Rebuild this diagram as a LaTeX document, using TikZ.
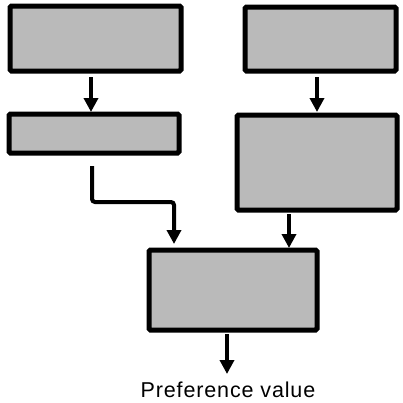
\documentclass[tikz,border=0pt]{standalone}
\usepackage{fontspec}
\setmainfont{Liberation Sans}
\usetikzlibrary{arrows.meta}
\begin{document}
\begin{tikzpicture}[x=1pt,y=-1pt,
  blk/.style={draw=black,line width=5pt,fill=black!27,rounded corners=1.5pt},
  flow/.style={line width=4pt,-{Triangle[length=14pt,width=14pt]}},
  link/.style={line width=4pt,rounded corners=3pt,-{Triangle[length=14pt,width=14pt]}}]
\useasboundingbox (0,0) rectangle (403,402);
\path[blk] (10,6) rectangle (181,71) node[pos=0.5,inner sep=0] (A) {};
\path[blk] (9,114) rectangle (179,153) node[pos=0.5,inner sep=0] (B) {};
\path[blk] (245,7) rectangle (396,71) node[pos=0.5,inner sep=0] (C) {};
\path[blk] (237,115) rectangle (397,210) node[pos=0.5,inner sep=0] (D) {};
\path[blk] (149,250) rectangle (317,330) node[pos=0.5,inner sep=0] (E) {};
\coordinate (a1) at (91,77);
\coordinate (b1) at (91,112);
\coordinate (c1) at (317,77);
\coordinate (d1) at (317,112);
\coordinate (d2) at (289,214);
\coordinate (e1) at (289,248);
\coordinate (bs) at (92,166);
\coordinate (bm1) at (92,202);
\coordinate (bm2) at (174,202);
\coordinate (bt) at (174,244);
\coordinate (e2) at (227,334);
\node[inner sep=0,anchor=base,font=\fontsize{21.5}{24}\selectfont\addfontfeature{LetterSpace=4}] (T) at (228,397) {Preference value};
\coordinate (t1) at (227,374);
\draw[flow] (a1) -- (b1);
\draw[flow] (c1) -- (d1);
\draw[flow] (d2) -- (e1);
\draw[link] (bs) -- (bm1) -- (bm2) -- (bt);
\draw[flow] (e2) -- (t1);
\end{tikzpicture}
\end{document}
